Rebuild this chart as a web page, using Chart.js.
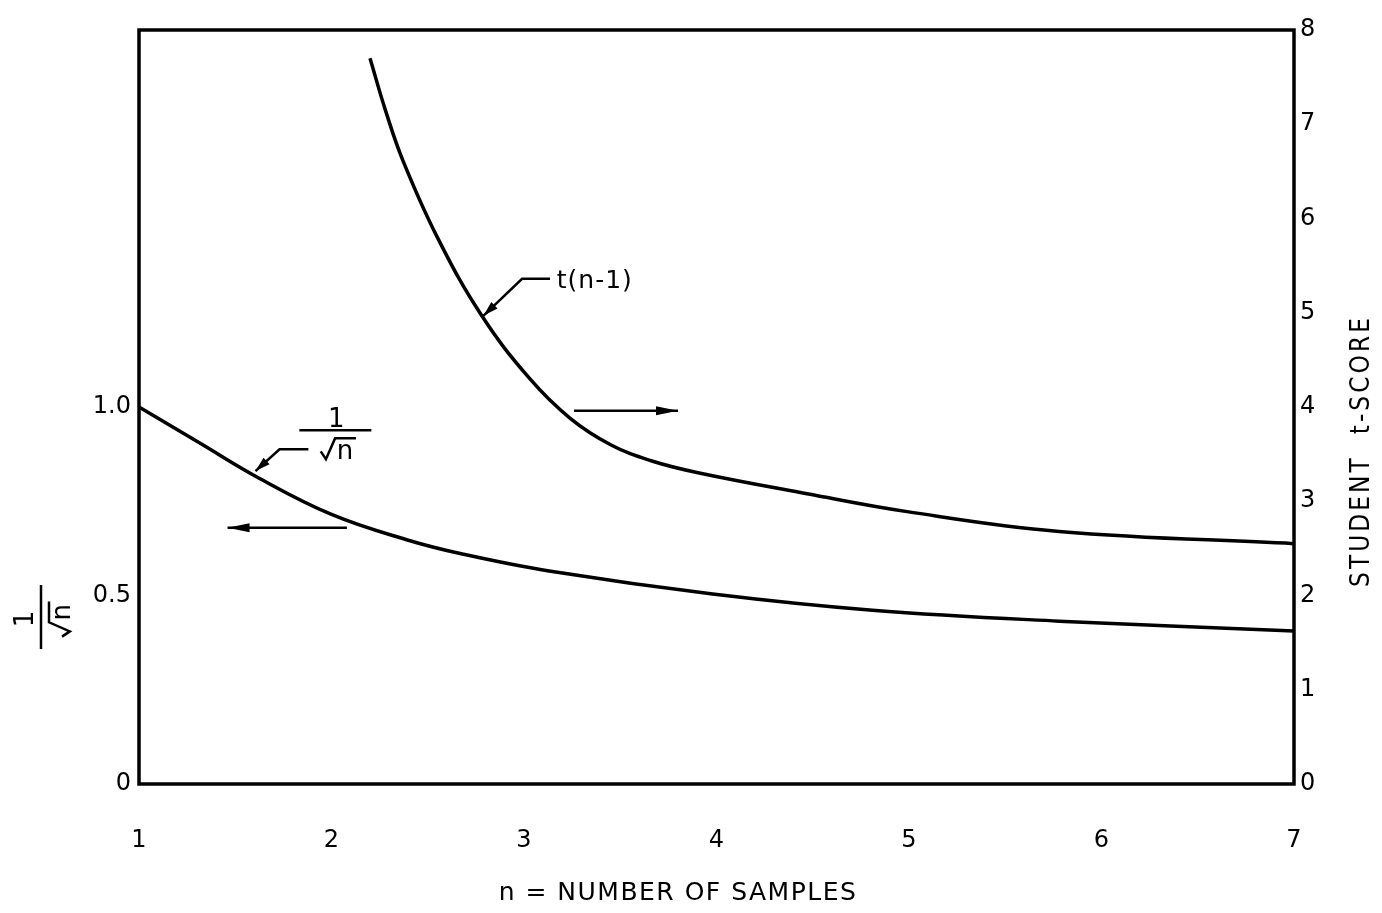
<!DOCTYPE html>
<html>
<head>
<meta charset="utf-8">
<script src="https://cdn.jsdelivr.net/npm/chart.js@4.4.1/dist/chart.umd.min.js"></script>
<style>
  html, body { margin: 0; padding: 0; background: #fff; }
  #wrap { width: 1382px; height: 913px; }
</style>
</head>
<body>
<div id="wrap"><canvas id="chart" width="1382" height="913"></canvas></div>
<script>
// n = number of samples, and the two curves read against it
const sampleN = [1, 1.32, 1.61, 2.0, 2.39, 2.68, 3.13, 3.98, 4.81, 5.78, 7.0];
const invRootN = [1.0, 0.903, 0.815, 0.715, 0.648, 0.61, 0.565, 0.504, 0.461, 0.432, 0.406];
const tN = [2.2, 2.28, 2.37, 2.55, 2.78, 3.03, 3.24, 3.45, 3.66, 3.91, 4.47, 4.99, 5.78, 7.0];
const tScore = [7.7, 7.15, 6.62, 5.8, 4.97, 4.30, 3.88, 3.60, 3.43, 3.30, 3.08, 2.89, 2.68, 2.55];

const xTicks = [1, 2, 3, 4, 5, 6, 7];
const leftTicks = [0, 0.5, 1.0];
const rightTicks = [0, 1, 2, 3, 4, 5, 6, 7, 8];

const FONT = '"DejaVu Sans", "Liberation Sans", sans-serif';
const INK = '#000';

function arrowHead(ctx, x0, y0, x1, y1, len, half) {
    const a = Math.atan2(y1 - y0, x1 - x0);
    const bx = x1 - len * Math.cos(a), by = y1 - len * Math.sin(a);
    ctx.beginPath();
    ctx.moveTo(x1, y1);
    ctx.lineTo(bx + half * Math.sin(a), by - half * Math.cos(a));
    ctx.lineTo(bx - half * Math.sin(a), by + half * Math.cos(a));
    ctx.closePath();
    ctx.fill();
}

// polyline through the given pixels, arrowhead on the last one
function leader(ctx, pts, head) {
    ctx.beginPath();
    pts.forEach((p, i) => i ? ctx.lineTo(p[0], p[1]) : ctx.moveTo(p[0], p[1]));
    ctx.stroke();
    const a = pts[pts.length - 2], b = pts[pts.length - 1];
    arrowHead(ctx, a[0], a[1], b[0], b[1], head[0], head[1]);
}

// "1 over root n" written as a stacked fraction, bar centred at (cx, cy)
function rootFraction(ctx, cx, cy, angle, o) {
    const s = o.size;
    ctx.save();
    ctx.translate(cx, cy);
    ctx.rotate(angle);
    ctx.font = `${s}px ${FONT}`;
    ctx.textBaseline = 'alphabetic';
    ctx.textAlign = 'center';
    ctx.fillText('1', o.numDx, -o.numGap);

    ctx.lineWidth = o.lw;
    ctx.beginPath();
    ctx.moveTo(-o.half, 0);
    ctx.lineTo(o.half, 0);
    ctx.stroke();

    const nW = ctx.measureText('n').width;
    const w = 0.62 * s + nW + 0.1 * s;
    const x0 = o.denDx - w / 2;
    const top = o.denGap;
    const base = top + 0.8 * s;
    ctx.beginPath();
    ctx.moveTo(x0, base - 0.3 * s);
    ctx.lineTo(x0 + 0.2 * s, base);
    ctx.lineTo(x0 + 0.55 * s, top);
    ctx.lineTo(x0 + w, top);
    ctx.stroke();
    ctx.textAlign = 'left';
    ctx.fillText('n', x0 + 0.62 * s, base);
    ctx.restore();
}

const notes = {
    id: 'notes',
    afterDatasetsDraw(chart) {
        const { ctx, chartArea: a, scales } = chart;
        const X = v => scales.x.getPixelForValue(v);
        const L = v => scales.yL.getPixelForValue(v);
        const R = v => scales.yR.getPixelForValue(v);

        ctx.save();
        ctx.strokeStyle = INK;
        ctx.fillStyle = INK;
        ctx.lineCap = 'butt';
        ctx.lineJoin = 'miter';

        // plot frame
        ctx.lineWidth = 3.5;
        ctx.strokeRect(a.left, a.top, a.right - a.left, a.bottom - a.top);

        // t(n-1) label and its leader
        ctx.lineWidth = 2.5;
        leader(ctx, [[X(3.135), R(5.36)], [X(2.99), R(5.36)], [X(2.79), R(4.97)]], [15, 4.5]);
        ctx.font = `25px ${FONT}`;
        ctx.textAlign = 'left';
        ctx.textBaseline = 'middle';
        ctx.letterSpacing = '1px';
        ctx.fillText('t(n-1)', X(3.17), R(5.33));
        ctx.letterSpacing = '0px';

        // 1/√n label and its leader
        leader(ctx, [[X(1.88), L(0.888)], [X(1.73), L(0.888)], [X(1.605), L(0.83)]], [15, 4.5]);
        rootFraction(ctx, X(2.02), L(0.938), 0, {
            size: 26, half: 36, numGap: 3, numDx: 1, denGap: 8, denDx: 3, lw: 2.5
        });

        // arrows pointing each curve to its axis
        ctx.lineWidth = 2.5;
        leader(ctx, [[X(2.08), L(0.68)], [X(1.46), L(0.68)]], [22, 4.5]);
        leader(ctx, [[X(3.26), R(3.96)], [X(3.80), R(3.96)]], [22, 4.5]);

        // axis titles
        ctx.font = `25px ${FONT}`;
        ctx.textAlign = 'center';
        ctx.textBaseline = 'middle';
        ctx.letterSpacing = '1.5px';
        ctx.fillText('n = NUMBER OF SAMPLES', 678, 893);

        ctx.save();
        ctx.translate(1362, 451);
        ctx.rotate(-Math.PI / 2);
        ctx.font = `26px "DejaVu Sans Condensed", ${FONT}`;
        ctx.letterSpacing = '3px';
        ctx.fillText('STUDENT  t-SCORE', 0, 0);
        ctx.restore();

        ctx.letterSpacing = '0px';
        rootFraction(ctx, 41, 617, -Math.PI / 2, {
            size: 26, half: 32, numGap: 8, numDx: -2, denGap: 8, denDx: -2, lw: 2.5
        });
        ctx.restore();
    }
};

const tickFont = { family: FONT, size: 24 };

new Chart(document.getElementById('chart'), {
    type: 'line',
    data: {
        datasets: [{
            label: '1/√n',
            data: sampleN.map((n, i) => ({ x: n, y: invRootN[i] })),
            yAxisID: 'yL',
            borderColor: INK,
            borderWidth: 3.5,
            pointRadius: 0,
            tension: 0.4,
            fill: false
        }, {
            label: 't(n-1)',
            data: tN.map((n, i) => ({ x: n, y: tScore[i] })),
            yAxisID: 'yR',
            borderColor: INK,
            borderWidth: 3.5,
            pointRadius: 0,
            tension: 0.4,
            fill: false
        }]
    },
    options: {
        responsive: false,
        animation: false,
        devicePixelRatio: 1,
        layout: { padding: { top: 30, left: 0, right: 0, bottom: 0 } },
        plugins: { legend: { display: false }, tooltip: { enabled: false } },
        scales: {
            x: {
                type: 'linear',
                min: 1,
                max: 7,
                afterBuildTicks: s => { s.ticks = xTicks.map(v => ({ value: v })); },
                afterFit: s => { s.height = 129; },
                grid: { display: false, drawTicks: false },
                border: { display: false },
                ticks: { font: tickFont, color: INK, padding: 42, maxRotation: 0 }
            },
            yL: {
                position: 'left',
                min: 0,
                max: 2,
                afterBuildTicks: s => { s.ticks = leftTicks.map(v => ({ value: v })); },
                afterFit: s => { s.width = 139; },
                grid: { display: false, drawTicks: false },
                border: { display: false },
                ticks: {
                    font: tickFont, color: INK, padding: 8,
                    callback: v => v === 0 ? '0' : v.toFixed(1)
                }
            },
            yR: {
                position: 'right',
                min: 0,
                max: 8,
                afterBuildTicks: s => { s.ticks = rightTicks.map(v => ({ value: v })); },
                afterFit: s => { s.width = 88; },
                grid: { display: false, drawTicks: false },
                border: { display: false },
                ticks: { font: tickFont, color: INK, padding: 6 }
            }
        }
    },
    plugins: [notes]
});
</script>
</body>
</html>
